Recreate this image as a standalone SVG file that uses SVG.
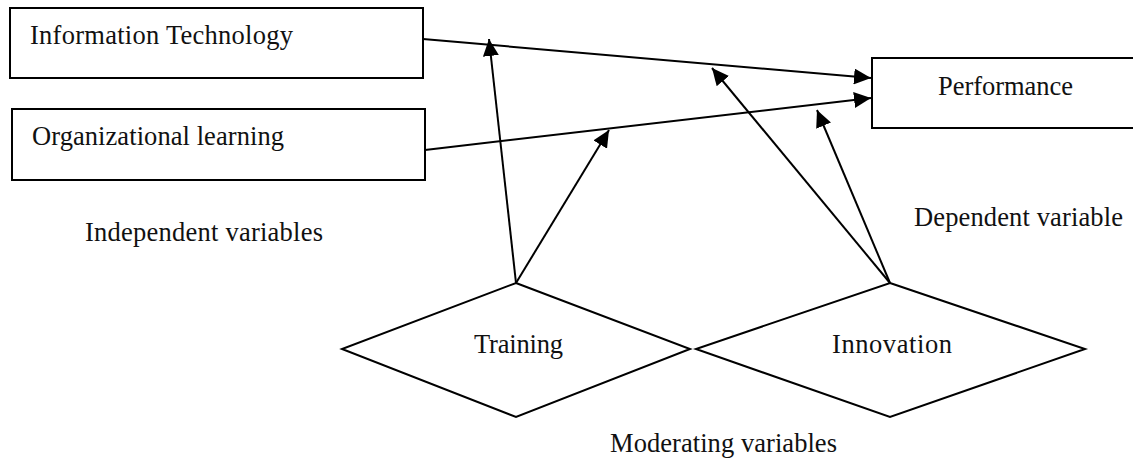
<svg xmlns="http://www.w3.org/2000/svg" width="1133" height="460" viewBox="0 0 1133 460">
<defs>
<style>
.box{fill:#fff;stroke:#000;stroke-width:2}
.ln{fill:none;stroke:#000;stroke-width:2;marker-end:url(#ah)}
text{font-family:"Liberation Serif","Times New Roman",serif;font-size:26.5px;fill:#111}
</style>
<marker id="ah" markerUnits="userSpaceOnUse" markerWidth="17" markerHeight="16" refX="17" refY="8" orient="auto">
<path d="M0,0 L17,8 L0,16 z" fill="#000"/>
</marker>
</defs>
<rect width="1133" height="460" fill="#fff"/>
<g id="it"><rect class="box" x="10" y="8" width="413" height="70"/><text x="30" y="44" textLength="263" lengthAdjust="spacing">Information Technology</text></g>
<g id="ol"><rect class="box" x="12" y="109" width="413" height="71"/><text x="32" y="145" textLength="252" lengthAdjust="spacing">Organizational learning</text></g>
<g id="perf"><rect class="box" x="872" y="58" width="270" height="70"/><text x="938" y="95" textLength="135" lengthAdjust="spacing">Performance</text></g>
<g id="training"><polygon class="box" points="516,283 690,349 516,417 342,349"/><text x="474" y="353" textLength="89" lengthAdjust="spacing">Training</text></g>
<g id="innovation"><polygon class="box" points="890,283 1085,349 890,417 696,349"/><text x="832" y="353" textLength="120" lengthAdjust="spacing">Innovation</text></g>
<g id="labels">
<text x="85" y="241" textLength="238" lengthAdjust="spacing">Independent variables</text>
<text x="914" y="226" textLength="209" lengthAdjust="spacing">Dependent variable</text>
<text x="610" y="452" textLength="227" lengthAdjust="spacing">Moderating variables</text>
</g>
<g id="connectors">
<line class="ln" x1="423" y1="39" x2="871" y2="78"/>
<line class="ln" x1="425" y1="150" x2="871" y2="98"/>
<line class="ln" x1="516" y1="283" x2="489" y2="39"/>
<line class="ln" x1="516" y1="283" x2="609" y2="130"/>
<line class="ln" x1="890" y1="283" x2="712" y2="68"/>
<line class="ln" x1="890" y1="283" x2="817" y2="110"/>
</g>
</svg>
